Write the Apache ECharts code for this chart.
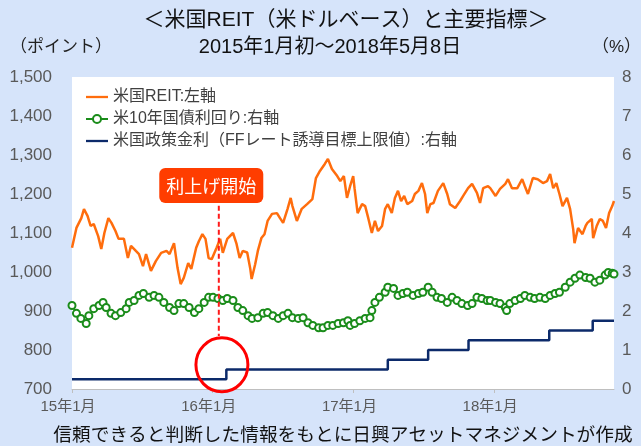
<!DOCTYPE html>
<html><head><meta charset="utf-8">
<script src="https://cdn.jsdelivr.net/npm/echarts@6/dist/echarts.min.js"></script>
<style>html,body{margin:0;padding:0;background:#d6e4fa;} #c{width:641px;height:446px;}</style>
</head><body><div id="c"></div>
<script>
// ---- data ----
const reitDates = ['2015-01-02','2015-01-12','2015-01-23','2015-01-29','2015-02-06','2015-02-13','2015-02-20','2015-03-02','2015-03-09','2015-03-16','2015-03-25','2015-04-01','2015-04-10','2015-04-17','2015-04-29','2015-05-08','2015-05-15','2015-05-26','2015-06-02','2015-06-11','2015-06-18','2015-06-29','2015-07-10','2015-07-22','2015-08-03','2015-08-10','2015-08-20','2015-08-28','2015-09-04','2015-09-11','2015-09-21','2015-09-28','2015-10-09','2015-10-15','2015-10-23','2015-10-30','2015-11-06','2015-11-13','2015-11-24','2015-12-02','2015-12-08','2015-12-18','2015-12-31','2016-01-08','2016-01-15','2016-01-22','2016-02-01','2016-02-08','2016-02-11','2016-02-19','2016-02-25','2016-03-04','2016-03-11','2016-03-18','2016-03-28','2016-04-08','2016-04-15','2016-04-22','2016-05-02','2016-05-09','2016-05-13','2016-05-23','2016-06-03','2016-06-15','2016-06-27','2016-07-05','2016-07-14','2016-07-25','2016-08-01','2016-08-10','2016-08-22','2016-08-29','2016-09-06','2016-09-13','2016-09-15','2016-09-20','2016-09-27','2016-09-30','2016-10-07','2016-10-17','2016-10-24','2016-10-31','2016-11-08','2016-11-15','2016-11-22','2016-12-01','2016-12-08','2016-12-14','2016-12-23','2016-12-30','2017-01-06','2017-01-13','2017-01-20','2017-01-27','2017-02-07','2017-02-13','2017-02-21','2017-03-01','2017-03-08','2017-03-13','2017-03-20','2017-03-27','2017-04-06','2017-04-18','2017-04-27','2017-05-03','2017-05-15','2017-05-26','2017-06-02','2017-06-13','2017-06-22','2017-07-03','2017-07-10','2017-07-17','2017-07-28','2017-08-02','2017-08-14','2017-08-24','2017-09-05','2017-09-11','2017-09-20','2017-10-02','2017-10-13','2017-10-19','2017-10-26','2017-11-06','2017-11-17','2017-11-29','2017-12-08','2017-12-15','2017-12-22','2017-12-29','2018-01-05','2018-01-12','2018-01-22','2018-01-29','2018-02-05','2018-02-08','2018-02-16','2018-02-26','2018-03-05','2018-03-09','2018-03-19','2018-03-22','2018-03-30','2018-04-06','2018-04-13','2018-04-20','2018-04-27','2018-05-04','2018-05-08'];
const reitValues = [1062,1113,1138,1161,1144,1118,1123,1092,1059,1100,1138,1126,1105,1085,1085,1036,1067,1054,1046,1015,1046,1003,1028,1049,1054,1046,1074,1010,969,985,1023,1008,1062,1079,1097,1085,1036,1033,1062,1085,1049,1085,1100,1072,1036,1054,1050,1008,982,1020,1054,1087,1097,1131,1149,1151,1138,1126,1162,1190,1169,1131,1162,1174,1187,1241,1259,1277,1290,1264,1246,1233,1246,1190,1187,1220,1246,1215,1151,1174,1169,1138,1100,1131,1105,1118,1162,1174,1151,1190,1208,1182,1195,1174,1182,1200,1208,1228,1200,1151,1174,1177,1208,1228,1200,1174,1164,1182,1195,1215,1226,1203,1177,1215,1220,1215,1195,1213,1226,1238,1215,1215,1238,1220,1200,1241,1238,1228,1233,1251,1215,1228,1200,1169,1190,1162,1110,1074,1113,1097,1118,1126,1136,1087,1118,1136,1131,1113,1151,1169,1182];

const yieldDates = ['2015-01-02','2015-01-12','2015-01-22','2015-02-03','2015-02-09','2015-02-20','2015-03-04','2015-03-13','2015-03-20','2015-03-31','2015-04-10','2015-04-22','2015-05-04','2015-05-11','2015-05-22','2015-06-02','2015-06-12','2015-06-25','2015-07-06','2015-07-17','2015-07-28','2015-08-10','2015-08-20','2015-08-31','2015-09-11','2015-09-23','2015-10-05','2015-10-15','2015-10-27','2015-11-06','2015-11-16','2015-11-27','2015-12-08','2015-12-18','2015-12-31','2016-01-11','2016-01-22','2016-02-03','2016-02-12','2016-02-25','2016-03-08','2016-03-18','2016-03-30','2016-04-11','2016-04-22','2016-05-03','2016-05-13','2016-05-26','2016-06-06','2016-06-17','2016-06-28','2016-07-11','2016-07-21','2016-08-01','2016-08-12','2016-08-24','2016-09-05','2016-09-15','2016-09-20','2016-09-30','2016-10-12','2016-10-24','2016-11-04','2016-11-08','2016-11-15','2016-11-25','2016-12-08','2016-12-14','2016-12-27','2017-01-06','2017-01-17','2017-01-27','2017-02-09','2017-02-21','2017-03-03','2017-03-15','2017-03-24','2017-04-04','2017-04-14','2017-04-27','2017-05-08','2017-05-19','2017-05-30','2017-06-12','2017-06-22','2017-07-03','2017-07-14','2017-07-26','2017-08-02','2017-08-14','2017-08-24','2017-09-05','2017-09-08','2017-09-15','2017-09-27','2017-10-09','2017-10-19','2017-10-31','2017-11-10','2017-11-22','2017-12-04','2017-12-15','2017-12-26','2018-01-05','2018-01-18','2018-01-29','2018-02-09','2018-02-20','2018-03-05','2018-03-15','2018-03-26','2018-04-06','2018-04-18','2018-04-25','2018-05-04','2018-05-08'];
const yieldValues = [2.14,1.94,1.81,1.68,1.88,2.06,2.14,2.22,2.09,1.94,1.88,1.96,2.06,2.22,2.27,2.40,2.45,2.35,2.40,2.35,2.22,2.09,2.01,2.19,2.19,2.09,1.96,2.06,2.22,2.35,2.35,2.32,2.27,2.32,2.27,2.09,2.01,1.88,1.81,1.83,1.94,1.96,1.88,1.81,1.88,1.94,1.83,1.81,1.83,1.70,1.63,1.57,1.57,1.63,1.63,1.68,1.70,1.75,1.63,1.68,1.75,1.81,1.83,2.01,2.22,2.35,2.48,2.61,2.58,2.40,2.45,2.48,2.40,2.45,2.48,2.61,2.48,2.35,2.32,2.22,2.35,2.27,2.19,2.14,2.19,2.35,2.32,2.27,2.27,2.22,2.19,2.09,2.01,2.19,2.27,2.32,2.40,2.35,2.32,2.35,2.32,2.40,2.45,2.48,2.61,2.74,2.84,2.92,2.86,2.84,2.74,2.79,2.92,2.99,2.97,2.95];

const ffDates = ['2015-01-02','2015-12-16','2016-12-14','2017-03-15','2017-06-14','2017-12-13','2018-03-21','2018-05-08'];
const ffValues = [0.25,0.50,0.75,1.00,1.25,1.50,1.75,1.75];

const xTickLabels = ['15年1月','16年1月','17年1月','18年1月'];
const seriesNames = ['米国REIT:左軸','米10年国債利回り:右軸','米国政策金利（FFレート誘導目標上限値）:右軸'];
const titleLines = ['＜米国REIT（米ドルベース）と主要指標＞','2015年1月初～2018年5月8日'];
const leftUnit = '（ポイント）', rightUnit = '（%）';
const sourceNote = '信頼できると判断した情報をもとに日興アセットマネジメントが作成';
const hikeLabel = '利上げ開始';
const hike = {boxDate:'2015-11-12', boxValue:1223, lineDate:'2015-11-29', lineTop:1170, lineBottom:836, circleDate:'2015-12-06', circleValue:0.62};

const zip = (a,b) => a.map((d,i)=>[d,b[i]]);
const FONT = "'Liberation Sans','Noto Sans CJK JP',sans-serif";
const LINE_ICON = 'path://M0,0 L24,0 L24,2.5 L0,2.5 Z';

const chart = echarts.init(document.getElementById('c'), null, {renderer:'canvas'});
const option = {
  backgroundColor:'#d6e4fa',
  animation:false,
  textStyle:{fontFamily:FONT},
  grid:{left:72,right:27,top:77,bottom:57,show:true,backgroundColor:'#ffffff',borderWidth:0},
  legend:{
    orient:'vertical', left:85, top:89, padding:0, itemGap:6, itemWidth:22, itemHeight:10,
    textStyle:{fontSize:16,color:'#404040',fontFamily:FONT},
    data:[{name:seriesNames[0],icon:LINE_ICON},{name:seriesNames[1]},{name:seriesNames[2],icon:LINE_ICON}]
  },
  xAxis:[
    {type:'time', min:'2015-01-02', max:'2018-05-08', axisLabel:{show:false}, axisTick:{show:false}, splitLine:{show:false},
     axisLine:{show:true,lineStyle:{color:'#bfbfbf',width:1}}},
    {type:'value', position:'bottom', min:0, max:3.852, interval:1, axisLine:{show:false}, splitLine:{show:false},
     axisTick:{show:true,length:4,lineStyle:{color:'#bfbfbf'}},
     axisLabel:{show:true, margin:10, fontSize:15, color:'#595959', showMaxLabel:false, padding:[0,8,0,0],
       formatter:(v)=>xTickLabels[Math.round(v)] || ''}}
  ],
  yAxis:[
    {type:'value', min:700, max:1500, interval:100, position:'left', splitLine:{show:false}, axisLine:{show:false}, axisTick:{show:false},
     axisLabel:{margin:20, fontSize:17, color:'#595959', formatter:(v)=>v.toLocaleString('en-US')}},
    {type:'value', min:0, max:8, interval:1, position:'right', splitLine:{show:false}, axisLine:{show:false}, axisTick:{show:false},
     axisLabel:{margin:8, fontSize:17, color:'#595959'}}
  ],
  series:[
    {name:seriesNames[0], type:'line', xAxisIndex:0, yAxisIndex:0, data:zip(reitDates,reitValues), symbol:'none',
     lineStyle:{color:'#ff6d0d',width:2.5}, itemStyle:{color:'#ff6d0d'}},
    {name:seriesNames[1], type:'line', xAxisIndex:0, yAxisIndex:1, data:zip(yieldDates,yieldValues), symbol:'emptyCircle', symbolSize:7,
     lineStyle:{color:'#1a8c1a',width:1.5}, itemStyle:{color:'#1a8c1a',borderColor:'#1a8c1a',borderWidth:1.3}},
    {name:seriesNames[2], type:'line', xAxisIndex:0, yAxisIndex:1, data:zip(ffDates,ffValues), step:'end', symbol:'none',
     lineStyle:{color:'#0c2a6a',width:2.5}, itemStyle:{color:'#0c2a6a'}}
  ]
};
chart.setOption(option);

const X = (d)=>chart.convertToPixel({xAxisIndex:0}, d);
const YL = (v)=>chart.convertToPixel({yAxisIndex:0}, v);
const YR = (v)=>chart.convertToPixel({yAxisIndex:1}, v);
const bx = X(hike.boxDate), by = YL(hike.boxValue);
const lx = X(hike.lineDate);
const cx = X(hike.circleDate), cy = YR(hike.circleValue);

chart.setOption({graphic:[
  {type:'text', x:346, y:20, style:{text:titleLines[0], font:"21px 'Liberation Sans','Noto Sans CJK JP'", fill:'#111', align:'center', verticalAlign:'middle'}},
  {type:'text', x:330, y:47, style:{text:titleLines[1], font:"20px 'Liberation Sans','Noto Sans CJK JP'", fill:'#111', align:'center', verticalAlign:'middle'}},
  {type:'text', x:10, y:47, style:{text:leftUnit, font:"17px 'Liberation Sans','Noto Sans CJK JP'", fill:'#222', verticalAlign:'middle'}},
  {type:'text', x:592, y:47, style:{text:rightUnit, font:"17px 'Liberation Sans','Noto Sans CJK JP'", fill:'#222', verticalAlign:'middle'}},
  {type:'text', x:343, y:436, style:{text:sourceNote, font:"18.7px 'Liberation Sans','Noto Sans CJK JP'", fill:'#111', align:'center', verticalAlign:'middle'}},
  {type:'line', shape:{x1:lx,y1:YL(hike.lineTop),x2:lx,y2:YL(hike.lineBottom)}, style:{stroke:'#ff1a1a',lineWidth:2,lineDash:[5,3]}, z:10},
  {type:'rect', shape:{x:bx-52,y:by-17,width:104,height:35,r:6}, style:{fill:'#ff3d00'}, z:10},
  {type:'text', x:bx, y:by+1, style:{text:hikeLabel, font:"18px 'Noto Sans CJK JP'", fill:'#ffffff', align:'center', verticalAlign:'middle'}, z:11},
  {type:'ellipse', shape:{cx:cx,cy:cy,rx:26,ry:27}, style:{fill:'none',stroke:'#ff0000',lineWidth:3}, z:10}
]});
</script></body></html>
